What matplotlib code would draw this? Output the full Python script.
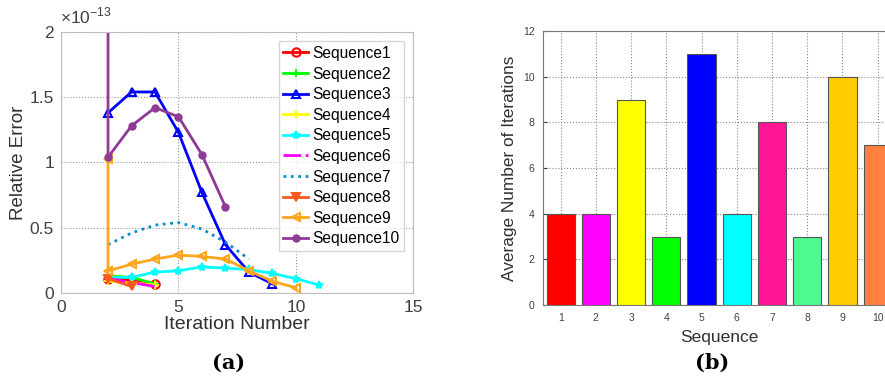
import matplotlib
matplotlib.use("Agg")
import matplotlib.pyplot as plt
from matplotlib.ticker import FuncFormatter

plt.rcParams["font.family"] = ["Liberation Sans", "DejaVu Sans"]
plt.rcParams["mathtext.fontset"] = "custom"
plt.rcParams["mathtext.rm"] = "Liberation Sans"

# (a) relative error per iteration, values in units of 1e-13
SCALE = 1e-13
seq_names = ["Sequence%d" % i for i in range(1, 11)]
seq_x = [
    [2, 3, 4],
    [2, 3, 4],
    [2, 3, 4, 5, 6, 7, 8, 9],
    [2, 3, 4],
    [2, 3, 4, 5, 6, 7, 8, 9, 10, 11],
    [2, 3, 4],
    [2, 3, 4, 5, 6, 7, 8],
    [2, 3],
    [2, 2, 3, 4, 5, 6, 7, 8, 9, 10],
    [2, 2, 3, 4, 5, 6, 7],
]
seq_y = [
    [0.11, 0.10, 0.07],
    [0.13, 0.12, 0.07],
    [1.38, 1.54, 1.54, 1.23, 0.77, 0.37, 0.16, 0.07],
    [0.09, 0.08, 0.06],
    [0.12, 0.12, 0.16, 0.17, 0.20, 0.19, 0.18, 0.15, 0.11, 0.06],
    [0.11, 0.08, 0.05],
    [0.37, 0.46, 0.52, 0.54, 0.49, 0.39, 0.26],
    [0.11, 0.05],
    [1.03, 0.17, 0.22, 0.26, 0.29, 0.28, 0.26, 0.17, 0.09, 0.04],
    [2.60, 1.04, 1.28, 1.42, 1.35, 1.06, 0.66],
]
seq_colors = ["#ff0000", "#00ff00", "#0000ff", "#ffff00", "#00ffff",
              "#ff00ff", "#0a8ad6", "#ff5a1e", "#ffa51e", "#8e3a96"]
seq_styles = ["-", "-", "-", "-", "-", "-.", ":", "-", "-", "-"]
seq_markers = ["o", "+", "^", "+", "*", None, None, "v", "<", "."]

# (b) average number of iterations
bar_labels = ["1", "2", "3", "4", "5", "6", "7", "8", "9", "10"]
bar_values = [4, 4, 9, 3, 11, 4, 8, 3, 10, 7]
bar_colors = ["#ff0000", "#ff00ff", "#ffff00", "#00ff00", "#0000ff",
              "#00ffff", "#ff1493", "#4dfa90", "#ffcc00", "#ff8040"]

fig = plt.figure(figsize=(8.85, 3.8), dpi=100)

# ---- (a)
ax1 = fig.add_axes([0.069, 0.229, 0.398, 0.687])
for i in range(10):
    xs = seq_x[i]
    ys = [v * SCALE for v in seq_y[i]]
    mfc = seq_colors[i] if seq_markers[i] in ("v", ".") else "none"
    ms = 9 if seq_markers[i] == "." else 6
    ax1.plot(xs, ys, linestyle=seq_styles[i], color=seq_colors[i], lw=2,
             marker=seq_markers[i], markersize=ms, markerfacecolor=mfc,
             markeredgewidth=1.5, label=seq_names[i])

ax1.set_xlim(0, 15)
ax1.set_ylim(0, 2 * SCALE)
ax1.set_xticks([0, 5, 10, 15])
ax1.set_yticks([0, 0.5e-13, 1e-13, 1.5e-13, 2e-13])
ax1.yaxis.set_major_formatter(FuncFormatter(lambda v, p: "%g" % round(v / SCALE, 3)))
ax1.grid(True, linestyle=":", color="#999999", lw=0.8)
ax1.tick_params(labelsize=12.5, colors="#404040", direction="in", length=0, pad=5)
for sp in ax1.spines.values():
    sp.set_color("#bdbdbd")
ax1.set_xlabel("Iteration Number", fontsize=14, color="#303030", labelpad=1)
ax1.set_ylabel("Relative Error", fontsize=13.5, color="#303030", labelpad=2)
fig.text(0.068, 0.93, r"$\times10^{-13}$", fontsize=12.5, color="#404040",
         ha="left", va="bottom")
leg = ax1.legend(loc="upper right", fontsize=11.2, fancybox=False,
                 borderaxespad=0.6, handlelength=1.6, handletextpad=0.25,
                 labelspacing=0.36, borderpad=0.3)
leg.get_frame().set_edgecolor("#cccccc")
leg.get_frame().set_linewidth(1)

fig.text(0.258, 0.045, "(a)", fontsize=15, fontweight="bold",
         family="DejaVu Serif", ha="center", va="center")

# ---- (b)
ax2 = fig.add_axes([0.6136, 0.197, 0.398, 0.721])
xpos = list(range(1, len(bar_values) + 1))
ax2.bar(xpos, bar_values, width=0.8, color=bar_colors,
        edgecolor="#555555", linewidth=0.8, zorder=3)
ax2.set_xlim(0.5, 10.5)
ax2.set_ylim(0, 12)
ax2.set_xticks(xpos)
ax2.set_xticklabels(bar_labels)
ax2.set_yticks(range(0, 13, 2))
ax2.grid(True, linestyle=":", color="#888888", lw=0.8, zorder=0)
ax2.tick_params(labelsize=7.5, colors="#404040", direction="in", length=3, pad=6)
for sp in ax2.spines.values():
    sp.set_color("#777777")
ax2.set_xlabel("Sequence", fontsize=12.5, color="#303030", labelpad=5)
ax2.set_ylabel("Average Number of Iterations", fontsize=12.4, color="#303030",
               labelpad=4)

fig.text(0.805, 0.045, "(b)", fontsize=15, fontweight="bold",
         family="DejaVu Serif", ha="center", va="center")

fig.savefig("out.png", dpi=100)
